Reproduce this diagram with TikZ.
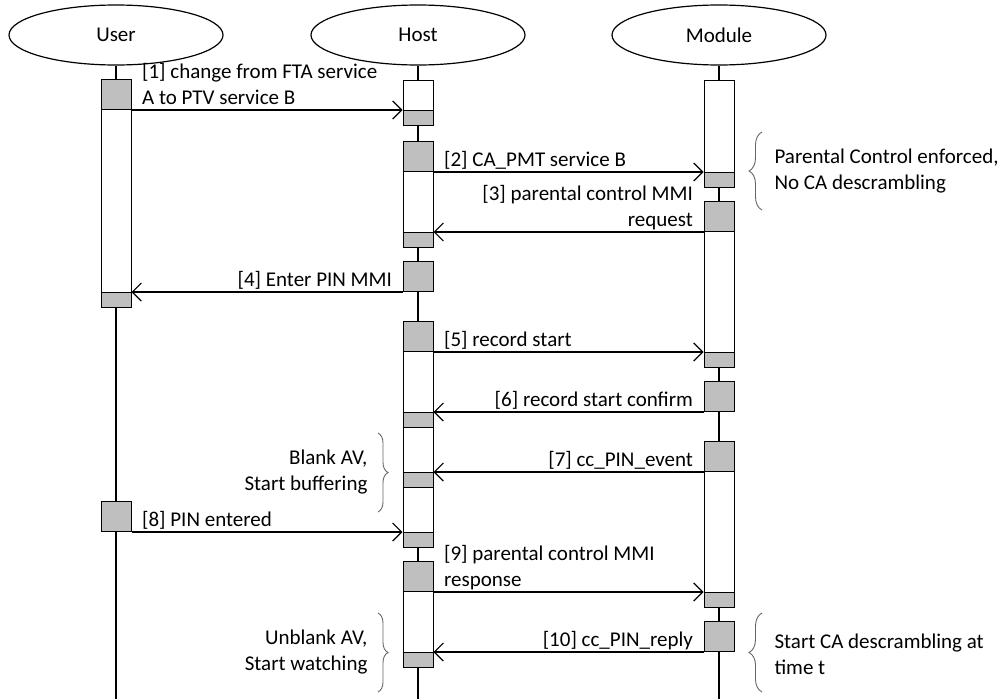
\documentclass[tikz,border=0pt]{standalone}
\usepackage{fontspec}
\setmainfont{Carlito}
\usetikzlibrary{shapes.geometric,arrows.meta,decorations.pathreplacing}
\pgfdeclarelayer{front}
\pgfsetlayers{main,front}

\tikzset{
  actor/.style={draw,ellipse,line width=1.2pt,minimum width=214pt,minimum height=60pt,inner sep=0pt},
  life/.style={line width=1.2pt},
  bar/.style={draw,fill=white,line width=1pt},
  sendblk/.style={draw,fill=black!25,line width=1pt,minimum width=30pt,minimum height=30pt,inner sep=0pt,anchor=south},
  recvblk/.style={draw,fill=black!25,line width=1pt,minimum width=30pt,minimum height=15pt,inner sep=0pt,anchor=north},
  msg/.style={line width=1.2pt,-{Straight Barb[length=9pt,width=18pt]}},
  lbl/.style={fill=white,inner xsep=1pt,inner ysep=0pt,text depth=5pt,pos=0},
  curly/.style={draw=black!60,line width=0.9pt,decorate,decoration={brace,amplitude=#1}},
  curly/.default=10pt
}

\begin{document}
\begin{tikzpicture}[x=1pt,y=-1pt,font=\fontsize{21}{26}\selectfont]
  \def\usr{116}
  \def\hst{418}
  \def\mdl{719}

  \useasboundingbox (0,0) rectangle (1003,699);

  \begin{pgfonlayer}{front}
    \node[actor] (user) at (\usr,35) {User};
    \node[actor] (host) at (\hst,35) {Host};
    \node[actor] (module) at (\mdl,35) {Module};
  \end{pgfonlayer}

  \foreach \a/\x in {user/\usr, host/\hst, module/\mdl} {
    \draw[life] (\a) -- (\x,699);
  }

  \draw[bar] (\usr-15,80) rectangle (\usr+15,307);
  \draw[bar] (\hst-15,80) rectangle (\hst+15,125);
  \draw[bar] (\hst-15,142) rectangle (\hst+15,247);
  \draw[bar] (\hst-15,322) rectangle (\hst+15,547);
  \draw[bar] (\hst-15,562) rectangle (\hst+15,667);
  \draw[bar] (\mdl-15,80) rectangle (\mdl+15,187);
  \draw[bar] (\mdl-15,202) rectangle (\mdl+15,367);
  \draw[bar] (\mdl-15,442) rectangle (\mdl+15,607);

  \foreach \k/\y/\a/\b in {1/110/\usr/\hst, 2/172/\hst/\mdl, 3/232/\mdl/\hst, 4/292/\hst/\usr,
                           5/352/\hst/\mdl, 6/412/\mdl/\hst, 7/472/\mdl/\hst, 8/532/\usr/\hst,
                           9/592/\hst/\mdl, 10/652/\mdl/\hst} {
    \node[sendblk] (s\k) at (\a,\y) {};
    \node[recvblk] (r\k) at (\b,\y) {};
  }

  \draw[msg] (s1.south east) -- node[lbl,anchor=south west,xshift=9pt,align=left]
    {[1] change from FTA service\\A to PTV service B} (r1.north west);
  \draw[msg] (s2.south east) -- node[lbl,anchor=south west,xshift=9pt]
    {[2] CA\_PMT service B} (r2.north west);
  \draw[msg] (s3.south west) -- node[lbl,anchor=south east,xshift=-9pt,align=right]
    {[3] parental control MMI\\request} (r3.north east);
  \draw[msg] (s4.south west) -- node[lbl,anchor=south east,xshift=-9pt]
    {[4] Enter PIN MMI} (r4.north east);
  \draw[msg] (s5.south east) -- node[lbl,anchor=south west,xshift=9pt]
    {[5] record start} (r5.north west);
  \draw[msg] (s6.south west) -- node[lbl,anchor=south east,xshift=-9pt]
    {[6] record start confirm} (r6.north east);
  \draw[msg] (s7.south west) -- node[lbl,anchor=south east,xshift=-9pt]
    {[7] cc\_PIN\_event} (r7.north east);
  \draw[msg] (s8.south east) -- node[lbl,anchor=south west,xshift=9pt]
    {[8] PIN entered} (r8.north west);
  \draw[msg] (s9.south east) -- node[lbl,anchor=south west,xshift=9pt,align=left]
    {[9] parental control MMI\\response} (r9.north west);
  \draw[msg] (s10.south west) -- node[lbl,anchor=south east,xshift=-9pt]
    {[10] cc\_PIN\_reply} (r10.north east);

  \draw[curly=13pt] (762,210) -- (762,132);
  \node[anchor=west,align=left] (enforced) at (771,171) {Parental Control enforced,\\No CA descrambling};
  \draw[curly] (378,433) -- (378,512);
  \node[anchor=east,align=right] (blank) at (371,472) {Blank AV,\\Start buffering};
  \draw[curly] (378,613) -- (378,692);
  \node[anchor=east,align=right] (unblank) at (371,652) {Unblank AV,\\Start watching};
  \draw[curly=13pt] (762,692) -- (762,613);
  \node[anchor=west,align=left] (descramble) at (771,654) {Start CA descrambling at\\time t};
\end{tikzpicture}
\end{document}
